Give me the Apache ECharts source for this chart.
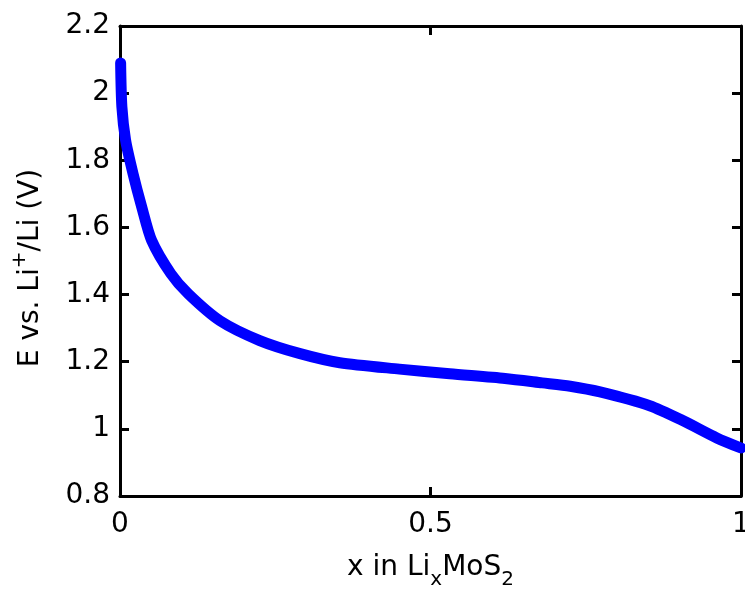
<!DOCTYPE html>
<html>
<head>
<meta charset="utf-8">
<script src="https://cdn.jsdelivr.net/npm/echarts@6/dist/echarts.min.js"></script>
<style>
html,body{margin:0;padding:0;background:#fff;}
#chart{width:745px;height:592px;}
</style>
</head>
<body>
<div id="chart"></div>
<script>
// x in LixMoS2
const xValues = [0.001, 0.003, 0.009, 0.021, 0.035, 0.051, 0.082, 0.110, 0.161, 0.225, 0.29, 0.354, 0.45, 0.531, 0.62, 0.68, 0.725, 0.773, 0.853, 0.907, 0.961, 1.0];
// E vs. Li+/Li (V)
const eValues = [2.09, 1.96, 1.86, 1.76, 1.661, 1.561, 1.462, 1.402, 1.322, 1.263, 1.224, 1.197, 1.178, 1.164, 1.15, 1.137, 1.127, 1.11, 1.069, 1.024, 0.973, 0.943];
const xTickLabels = ['0', '0.5', '1'];
const yTickLabels = ['0.8', '1', '1.2', '1.4', '1.6', '1.8', '2', '2.2'];

const FONT = 'DejaVu Sans';
const FS = 28;
const data = xValues.map((x, i) => [x, eValues[i]]);

const chart = echarts.init(document.getElementById('chart'));
const axisLine = { show: true, onZero: false, lineStyle: { color: '#000', width: 3 } };
const axisTick = { show: true, inside: true, length: 9, lineStyle: { color: '#000', width: 3 } };

chart.setOption({
  animation: false,
  backgroundColor: '#fff',
  grid: { left: 120, right: 4, top: 26, bottom: 96, containLabel: false, outerBoundsMode: 'none' },
  xAxis: [{
    type: 'value', min: 0, max: 1, interval: 0.5, position: 'bottom',
    axisLine, axisTick, splitLine: { show: false },
    axisLabel: { margin: 15, color: '#000', fontFamily: FONT, fontSize: FS,
      formatter: (v) => xTickLabels[Math.round(v / 0.5)] },
    name: '{b|x in Li}{sub|x}{b|MoS}{sub|2}',
    nameLocation: 'middle', nameGap: 58,
    nameTextStyle: {
      color: '#000', fontFamily: FONT, fontSize: FS,
      rich: {
        b: { color: '#000', fontFamily: FONT, fontSize: FS, verticalAlign: 'top' },
        sub: { color: '#000', fontFamily: FONT, fontSize: 20, lineHeight: 36, verticalAlign: 'bottom' }
      }
    }
  }, {
    type: 'value', min: 0, max: 1, interval: 0.5, position: 'top',
    axisLine, axisTick, splitLine: { show: false }, axisLabel: { show: false }
  }],
  yAxis: [{
    type: 'value', min: 0.8, max: 2.2, interval: 0.2, position: 'left',
    axisLine, axisTick, splitLine: { show: false },
    axisLabel: { margin: 10, color: '#000', fontFamily: FONT, fontSize: FS,
      formatter: (v) => yTickLabels[Math.round((v - 0.8) / 0.2)] },
    name: '{b|E vs. Li}{sup|+}{b|/Li (V)}',
    nameLocation: 'middle', nameGap: 75,
    nameTextStyle: {
      color: '#000', fontFamily: FONT, fontSize: FS,
      padding: [0, 14, 0, 0],
      rich: {
        b: { color: '#000', fontFamily: FONT, fontSize: FS, lineHeight: 35, verticalAlign: 'bottom' },
        sup: { color: '#000', fontFamily: FONT, fontSize: 20, verticalAlign: 'top' }
      }
    }
  }, {
    type: 'value', min: 0.8, max: 2.2, interval: 0.2, position: 'right',
    axisLine, axisTick, splitLine: { show: false }, axisLabel: { show: false }
  }],
  series: [{
    type: 'line',
    data: data,
    xAxisIndex: 0, yAxisIndex: 0,
    showSymbol: false,
    smooth: 0.25,
    clip: false,
    lineStyle: { color: '#0000ff', width: 11, cap: 'round', join: 'round' }
  }]
});
</script>
</body>
</html>
